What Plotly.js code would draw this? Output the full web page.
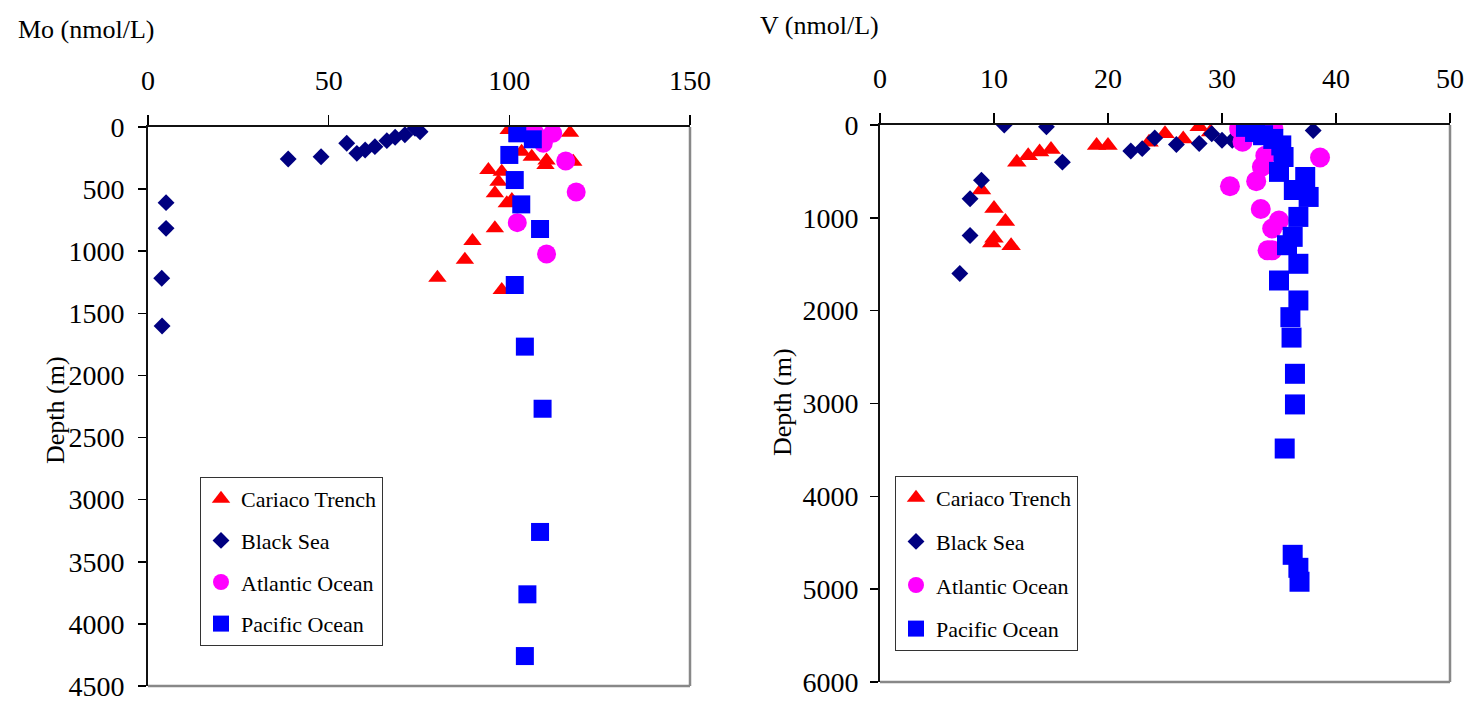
<!DOCTYPE html>
<html>
<head>
<meta charset="utf-8">
<script src="https://cdn.plot.ly/plotly-3.0.1.min.js"></script>
<style>html,body{margin:0;padding:0;background:#fff;}</style>
</head>
<body>
<div id="chart" style="width:1473px;height:702px;"></div>
<script>
// ---------- Mo panel (left) ----------
const moCariacoX     = [99.8, 116.8, 103.4, 106.2, 110.3, 110.0, 117.7, 94.2, 97.9, 97.0, 96.0, 100.7, 99.3, 96.0, 89.8, 87.7, 80.1, 97.9];
const moCariacoDepth = [24, 46, 199, 239, 270, 305, 279, 346, 360, 440, 534, 588, 614, 816, 918, 1068, 1213, 1312];

const moBlackSeaX     = [73.9, 75.3, 71.1, 68.4, 66.1, 55.0, 62.8, 60.1, 57.8, 47.9, 38.8, 5.0, 5.0, 3.8, 3.9];
const moBlackSeaDepth = [10, 38, 62, 83, 110, 131, 158, 185, 212, 239, 258, 609, 816, 1218, 1602];

const moAtlanticX     = [103.4, 107.1, 112.0, 109.4, 115.6, 118.5, 102.2, 110.3];
const moAtlanticDepth = [0, 51, 51, 131, 274, 523, 770, 1022];

const moPacificX     = [102.2, 106.5, 100.0, 101.5, 103.3, 108.5, 101.5, 104.3, 109.2, 108.5, 105.0, 104.3];
const moPacificDepth = [51, 99, 225, 427, 623, 821, 1272, 1768, 2268, 3260, 3762, 4259];

// ---------- V panel (right) ----------
const vCariacoX     = [28.0, 29.0, 25.0, 26.6, 23.6, 19.0, 20.0, 15.0, 14.0, 13.0, 12.0, 8.9, 10.0, 11.0, 10.0, 9.8, 11.5];
const vCariacoDepth = [20, 75, 95, 150, 185, 220, 220, 265, 290, 330, 400, 700, 900, 1040, 1220, 1270, 1300];

const vBlackSeaX     = [10.9, 14.6, 38.0, 29.1, 24.1, 30.0, 30.9, 28.0, 26.0, 23.0, 22.0, 16.0, 8.9, 7.9, 7.9, 7.0];
const vBlackSeaDepth = [0, 20, 60, 95, 140, 165, 165, 200, 210, 255, 280, 400, 595, 795, 1190, 1600];

const vAtlanticX     = [31.5, 34.5, 31.8, 33.8, 38.6, 33.5, 33.0, 30.7, 33.4, 35.0, 34.4, 34.0, 34.4];
const vAtlanticDepth = [40, 40, 180, 330, 350, 450, 605, 660, 905, 1030, 1115, 1350, 1350];

const vPacificX     = [32.1, 32.9, 33.6, 34.5, 35.2, 35.4, 35.0, 37.3, 36.3, 37.6, 36.7, 36.2, 35.7, 36.7, 35.0, 36.7, 36.0, 36.1, 36.4, 36.4, 35.5, 36.2, 36.7, 36.8];
const vPacificDepth = [20, 75, 110, 150, 220, 345, 505, 560, 700, 775, 990, 1205, 1295, 1495, 1675, 1890, 2070, 2290, 2680, 3010, 3485, 4630, 4770, 4920];

// ---------- tick labels ----------
const moTicks    = [0, 50, 100, 150];
const moDepthTicks = [0, 500, 1000, 1500, 2000, 2500, 3000, 3500, 4000, 4500];
const vTicks     = [0, 10, 20, 30, 40, 50];
const vDepthTicks  = [0, 1000, 2000, 3000, 4000, 5000, 6000];

const seriesNames = ['Cariaco Trench', 'Black Sea', 'Atlantic Ocean', 'Pacific Ocean'];

const FONT = 'Liberation Serif';
const RED = '#FF0000', NAVY = '#000080', MAG = '#FF00FF', BLUE = '#0000FF';

function tr(x, y, name, sym, color, size, xa, ya, leg) {
  return {
    type: 'scatter', mode: 'markers', x: x, y: y, name: name,
    xaxis: xa, yaxis: ya, legend: leg, legendgroup: leg + name,
    marker: {symbol: sym, color: color, size: size, line: {width: 0}},
    hoverinfo: 'x+y'
  };
}

const data = [
  tr(moCariacoX, moCariacoDepth, seriesNames[0], 'triangle-up', RED, 16, 'x', 'y', 'legend'),
  tr(moBlackSeaX, moBlackSeaDepth, seriesNames[1], 'diamond', NAVY, 13, 'x', 'y', 'legend'),
  tr(moAtlanticX, moAtlanticDepth, seriesNames[2], 'circle', MAG, 19, 'x', 'y', 'legend'),
  tr(moPacificX, moPacificDepth, seriesNames[3], 'square', BLUE, 18, 'x', 'y', 'legend'),
  tr(vCariacoX, vCariacoDepth, seriesNames[0], 'triangle-up', RED, 17, 'x2', 'y2', 'legend2'),
  tr(vBlackSeaX, vBlackSeaDepth, seriesNames[1], 'diamond', NAVY, 13, 'x2', 'y2', 'legend2'),
  tr(vAtlanticX, vAtlanticDepth, seriesNames[2], 'circle', MAG, 20, 'x2', 'y2', 'legend2'),
  tr(vPacificX, vPacificDepth, seriesNames[3], 'square', BLUE, 20, 'x2', 'y2', 'legend2')
];

const tickFont = {family: FONT, size: 28, color: '#000'};

function xAx(domain, range, tickvals, anchor) {
  return {
    domain: domain, range: range, side: 'top', anchor: anchor,
    tickmode: 'array', tickvals: tickvals,
    ticks: 'outside', ticklen: 10, tickwidth: 1.5, tickcolor: '#000',
    showline: true, linewidth: 2, linecolor: '#111',
    showgrid: false, zeroline: false, tickfont: tickFont,
    ticklabelstandoff: 14, fixedrange: true
  };
}
function yAx(domain, range, tickvals, anchor, standoff) {
  return {
    domain: domain, range: range, anchor: anchor,
    tickmode: 'array', tickvals: tickvals,
    ticks: 'outside', ticklen: 8, tickwidth: 1.5, tickcolor: '#000',
    showline: true, linewidth: 2, linecolor: '#111',
    showgrid: false, zeroline: false, tickfont: tickFont,
    ticklabelstandoff: standoff, fixedrange: true
  };
}
function xIn(over, domain, range, tickvals, anchor) {
  return {overlaying: over, domain: domain, range: range, side: 'top', anchor: anchor,
    tickmode: 'array', tickvals: tickvals, ticks: 'inside', ticklen: 10, tickwidth: 1.5, tickcolor: '#000',
    showticklabels: false, showline: false, showgrid: false, zeroline: false, fixedrange: true};
}
function yIn(over, domain, range, tickvals, anchor) {
  return {overlaying: over, domain: domain, range: range, side: 'left', anchor: anchor,
    tickmode: 'array', tickvals: tickvals, ticks: 'inside', ticklen: 10, tickwidth: 1.5, tickcolor: '#000',
    showticklabels: false, showline: false, showgrid: false, zeroline: false, fixedrange: true};
}

const LXD = [148 / 1473, 690 / 1473], LYD = [1 - 686 / 702, 1 - 127 / 702];
const RXD = [880 / 1473, 1450 / 1473], RYD = [1 - 682 / 702, 1 - 125 / 702];

function frame(xr, yr) {
  return [
    {type: 'line', xref: xr + ' domain', yref: yr + ' domain', x0: 1, x1: 1, y0: 0, y1: 1, line: {color: '#888', width: 2.5}},
    {type: 'line', xref: xr + ' domain', yref: yr + ' domain', x0: 0, x1: 1, y0: 0, y1: 0, line: {color: '#888', width: 2.5}}
  ];
}

const legendBase = {
  bgcolor: '#fff', bordercolor: '#333', borderwidth: 1,
  font: {family: FONT, size: 22, color: '#000'},
  xanchor: 'left', yanchor: 'top', traceorder: 'grouped',
  itemclick: false, itemdoubleclick: false
};

const annFont = {family: FONT, size: 26, color: '#000'};

const layout = {
  width: 1473, height: 702,
  margin: {l: 0, r: 0, t: 0, b: 0},
  paper_bgcolor: '#fff', plot_bgcolor: '#fff',
  showlegend: true,
  xaxis: xAx(LXD, [0, 150], moTicks, 'y'),
  yaxis: yAx(LYD, [4500, 0], moDepthTicks, 'x', 8),
  xaxis2: xAx(RXD, [0, 50], vTicks, 'y2'),
  yaxis2: yAx(RYD, [6000, 0], vDepthTicks, 'x2', 6),
  xaxis3: xIn('x', LXD, [0, 150], moTicks, 'y'),
  yaxis3: yIn('y', LYD, [4500, 0], moDepthTicks, 'x'),
  xaxis4: xIn('x2', RXD, [0, 50], vTicks, 'y2'),
  yaxis4: yIn('y2', RYD, [6000, 0], vDepthTicks, 'x2'),
  legend: Object.assign({}, legendBase, {x: 200 / 1473, y: 1 - 477 / 702, tracegroupgap: 10}),
  legend2: Object.assign({}, legendBase, {x: 895 / 1473, y: 1 - 476 / 702, tracegroupgap: 12}),
  shapes: frame('x', 'y').concat(frame('x2', 'y2')),
  annotations: [
    {text: 'Mo (nmol/L)', xref: 'paper', yref: 'paper', x: 16 / 1473, y: 1 - 30 / 702, xanchor: 'left', yanchor: 'middle', showarrow: false, font: annFont},
    {text: 'V (nmol/L)', xref: 'paper', yref: 'paper', x: 758 / 1473, y: 1 - 26 / 702, xanchor: 'left', yanchor: 'middle', showarrow: false, font: annFont},
    {text: 'Depth (m)', xref: 'paper', yref: 'paper', x: 55 / 1473, y: 1 - 410 / 702, xanchor: 'center', yanchor: 'middle', textangle: -90, showarrow: false, font: annFont},
    {text: 'Depth (m)', xref: 'paper', yref: 'paper', x: 782 / 1473, y: 1 - 402 / 702, xanchor: 'center', yanchor: 'middle', textangle: -90, showarrow: false, font: annFont}
  ]
};

Plotly.newPlot('chart', data, layout, {displayModeBar: false, staticPlot: true});
</script>
</body>
</html>
